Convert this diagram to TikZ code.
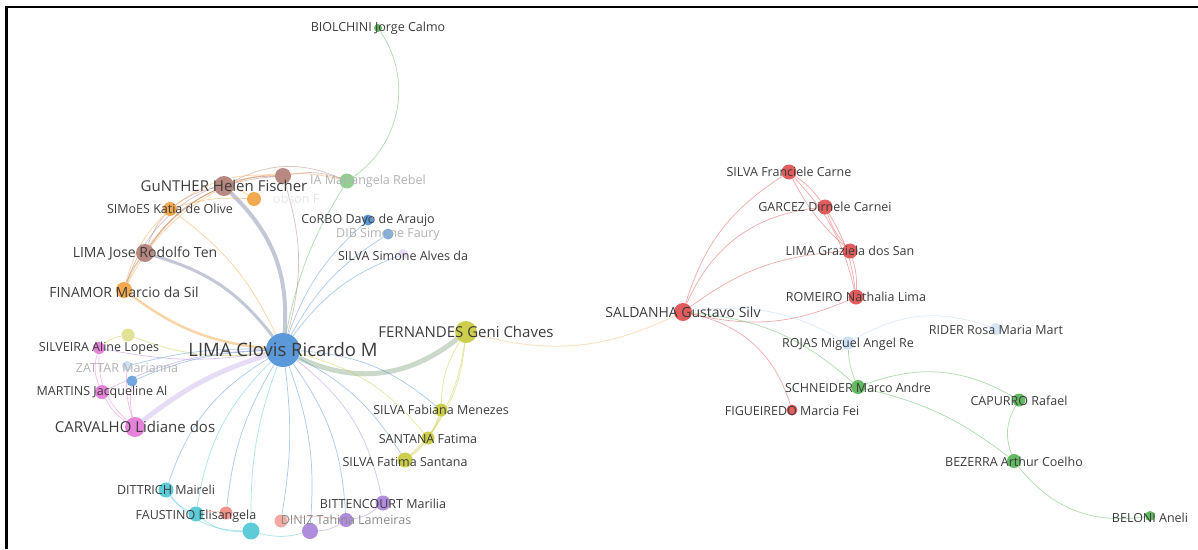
\documentclass[tikz,border=0pt]{standalone}
\usepackage{fontspec}
\setmainfont{Open Sans}
\usetikzlibrary{positioning,backgrounds}

\definecolor{vblue}{HTML}{4A8ED6}
\definecolor{vred}{HTML}{DE4A4A}
\definecolor{vgreen}{HTML}{52B352}
\definecolor{volive}{HTML}{C8C93A}
\definecolor{vbrown}{HTML}{B07C74}
\definecolor{vorange}{HTML}{F2A03D}
\definecolor{vpink}{HTML}{E276D6}
\definecolor{vpurple}{HTML}{A77FD9}
\definecolor{vteal}{HTML}{4CC6D4}
\definecolor{vsalmon}{HTML}{EF8A80}
\definecolor{labeltext}{HTML}{3C3C3C}

\tikzset{
  dot/.style={circle,fill=#1,draw=none,inner sep=0pt,minimum size=13pt,opacity=.9},
  lbl/.style={text=labeltext,inner sep=0pt,font=\fontsize{12.5}{13}\selectfont},
  faint/.style={text=black!30},
  link/.style={draw=#1,line width=.75pt,draw opacity=.45},
  thick link/.style={draw=#1,line width=4pt,draw opacity=.45},
}

\begin{document}
\begin{tikzpicture}[x=1pt,y=-1pt]
\useasboundingbox (0,0) rectangle (1198,549);
\draw[line width=2.6pt] (6.5,549) -- (6.5,7) -- (1198,7);

% authors, left group
\node[dot=vblue,minimum size=34pt] (clovis) at (283,350) {};
\node[dot=vgreen,minimum size=8pt] (biol) at (378,28) {};
\node[dot=vbrown,minimum size=20pt] (gunther) at (224,186) {};
\node[dot=vbrown,minimum size=16pt] (brownA) at (283,176) {};
\node[dot=vorange,minimum size=14pt] (orangeA) at (254,199) {};
\node[dot=vgreen!70,minimum size=15pt] (marian) at (347,181) {};
\node[dot=vorange,minimum size=14pt] (simoes) at (170,209) {};
\node[dot=vblue,minimum size=11pt] (corbo) at (368,220) {};
\node[dot=vblue!80,minimum size=11pt] (dib) at (388,234) {};
\node[dot=vpurple!30,minimum size=10pt] (silvasim) at (403,254) {};
\node[dot=vbrown,minimum size=18pt] (limajose) at (145,253) {};
\node[dot=vorange,minimum size=16pt] (finamor) at (124,290) {};
\node[dot=volive!60,minimum size=13pt] (oliveA) at (128,335) {};
\node[dot=vpink,minimum size=12pt] (silveira) at (99,348) {};
\node[dot=vblue!30,minimum size=10pt] (zattar) at (127,366) {};
\node[dot=vblue!85,minimum size=11pt] (blueB) at (132,381) {};
\node[dot=vpink,minimum size=14pt] (martins) at (102,392) {};
\node[dot=vpink,minimum size=20pt] (carvalho) at (135,427) {};
\node[dot=volive,minimum size=22pt] (fernandes) at (466,332) {};
\node[dot=volive,minimum size=13pt] (fabiana) at (441,410) {};
\node[dot=volive,minimum size=13pt] (santana) at (428,438) {};
\node[dot=volive,minimum size=15pt] (fatima) at (405,460) {};
\node[dot=vteal,minimum size=15pt] (dittrich) at (166,490) {};
\node[dot=vteal,minimum size=15pt] (faustino) at (196,514) {};
\node[dot=vsalmon,minimum size=13pt] (salmonA) at (226,513) {};
\node[dot=vteal,minimum size=17pt] (tealB) at (251,531) {};
\node[dot=vsalmon!80,minimum size=13pt] (salmonB) at (281,521) {};
\node[dot=vpurple,minimum size=16pt] (purpleB) at (310,531) {};
\node[dot=vpurple,minimum size=14pt] (purpleA) at (346,520) {};
\node[dot=vpurple,minimum size=15pt] (bitten) at (383,503) {};

% authors, right group
\node[dot=vred,minimum size=18pt] (saldanha) at (683,312) {};
\node[dot=vred,minimum size=15pt] (franciele) at (789,172) {};
\node[dot=vred,minimum size=15pt] (garcez) at (825,207) {};
\node[dot=vred,minimum size=15pt] (graziela) at (850,251) {};
\node[dot=vred,minimum size=15pt] (romeiro) at (856,297) {};
\node[dot=vblue!25,minimum size=12pt] (rider) at (996,329) {};
\node[dot=vblue!30,minimum size=13pt] (rojas) at (848,343) {};
\node[dot=vgreen,minimum size=14pt] (schneider) at (858,387) {};
\node[dot=vred,minimum size=11pt] (figueiredo) at (792,410) {};
\node[dot=vgreen,minimum size=13pt] (capurro) at (1019,400) {};
\node[dot=vgreen,minimum size=14pt] (bezerra) at (1014,461) {};
\node[dot=vgreen,minimum size=10pt] (beloni) at (1150,516) {};

\begin{pgfonlayer}{background}
% links of LIMA Clovis
\draw[link=vblue] (clovis) to[bend left=14] (corbo);
\draw[link=vblue] (clovis) to[bend left=14] (dib);
\draw[link=vblue] (clovis) to[bend left=16] (silvasim);
\draw[link=vgreen] (clovis) to[bend left=10] (marian);
\draw[link=vbrown] (clovis) to[bend right=16] (brownA);
\draw[thick link=vbrown!50!vblue] (gunther) to[bend left=25] (clovis);
\draw[thick link=vbrown!50!vblue,line width=3pt] (limajose) to[bend left=18] (clovis);
\draw[link=vorange,line width=2.5pt] (finamor) to[bend right=15] (clovis);
\draw[link=vorange] (simoes) to[bend left=14] (clovis);
\draw[thick link=vblue!50!volive,line width=5pt] (clovis) to[bend right=32] (fernandes);
\draw[thick link=vpurple!60,line width=5pt] (clovis) to[bend right=10] (carvalho);
\draw[link=vpurple] (clovis) to[bend right=12] (martins);
\draw[link=vpurple] (clovis) to[bend left=10] (silveira);
\draw[link=volive] (clovis) to[bend left=14] (oliveA);
\draw[link=vblue] (clovis) to[bend right=8] (zattar);
\draw[link=vblue] (clovis) to[bend right=10] (blueB);
\draw[link=vblue] (clovis) to[bend left=18] (fabiana);
\draw[link=volive] (clovis) to[bend left=18] (santana);
\draw[link=vblue] (clovis) to[bend left=15] (fatima);
\draw[link=vblue] (clovis) to[bend right=20] (dittrich);
\draw[link=vteal] (clovis) to[bend right=18] (faustino);
\draw[link=vblue] (clovis) to[bend right=12] (salmonA);
\draw[link=vteal] (clovis) to[bend right=10] (tealB);
\draw[link=vblue] (clovis) to[bend left=8] (salmonB);
\draw[link=vblue] (clovis) to[bend left=12] (purpleB);
\draw[link=vblue] (clovis) to[bend left=16] (purpleA);
\draw[link=vpurple] (clovis) to[bend left=20] (bitten);
% top left group
\draw[link=vbrown] (gunther) to[bend right=12] (simoes);
\draw[link=vbrown] (gunther) to[bend right=15] (limajose);
\draw[link=vorange] (gunther) to[bend right=15] (finamor);
\draw[link=vbrown] (gunther) to[bend left=10] (brownA);
\draw[link=vorange] (gunther) to[bend left=10] (orangeA);
\draw[link=vbrown] (gunther) to[bend left=25] (marian);
\draw[link=vbrown] (simoes) to[bend right=10] (limajose);
\draw[link=vorange] (simoes) to[bend right=15] (finamor);
\draw[link=vbrown] (limajose) to[bend right=10] (finamor);
\draw[link=vbrown] (finamor) to[bend left=35] (brownA);
\draw[link=vorange] (finamor) to[bend left=40] (marian);
\draw[link=vbrown] (limajose) to[bend left=25] (brownA);
\draw[link=vorange] (simoes) to[bend left=20] (brownA);
\draw[link=vbrown] (brownA) to[bend left=15] (marian);
\draw[link=vorange] (simoes) to[bend left=10] (orangeA);
\draw[link=vgreen] (biol) to[bend left=45] (marian);
% pink group
\draw[link=vpink] (silveira) to[bend right=20] (martins);
\draw[link=vpink] (martins) to[bend right=15] (carvalho);
\draw[link=vpink] (silveira) to[bend right=25] (carvalho);
\draw[link=vpink] (zattar) to[bend right=10] (carvalho);
\draw[link=vpink] (blueB) to[bend right=10] (carvalho);
\draw[link=volive] (oliveA) to[bend right=15] (silveira);
% olive group
\draw[link=volive] (fernandes) to[bend right=15] (fabiana);
\draw[link=volive] (fernandes) to[bend left=12] (santana);
\draw[link=volive] (fernandes) to[bend left=20] (fatima);
\draw[link=volive] (fabiana) to[bend left=10] (santana);
\draw[link=volive] (santana) to[bend left=10] (fatima);
\draw[link=volive] (fabiana) to[bend left=15] (fatima);
\draw[link=vorange!70,line width=.9pt] (fernandes) to[bend right=20] (saldanha);
% bottom group
\draw[link=vteal] (dittrich) to[bend right=15] (faustino);
\draw[link=vteal] (faustino) to[bend right=20] (tealB);
\draw[link=vsalmon] (faustino) to[bend left=10] (salmonA);
\draw[link=vteal] (dittrich) to[bend right=25] (tealB);
\draw[link=vteal] (tealB) to[bend right=15] (purpleB);
\draw[link=vpurple] (purpleB) to[bend right=15] (purpleA);
\draw[link=vpurple] (purpleA) to[bend right=15] (bitten);
\draw[link=vsalmon] (salmonB) to[bend left=10] (purpleA);
% right group
\draw[link=vred] (saldanha) to[bend left=20] (franciele);
\draw[link=vred] (saldanha) to[bend left=30] (garcez);
\draw[link=vred] (saldanha) to[bend left=16] (graziela);
\draw[link=vred] (saldanha) to[bend right=18] (romeiro);
\draw[link=vred] (saldanha) to[bend left=30] (figueiredo);
\draw[link=vblue!40] (saldanha) to[bend left=18] (rojas);
\draw[link=vgreen] (saldanha) to[bend left=18] (schneider);
\draw[link=vred] (franciele) to[bend left=10] (garcez);
\draw[link=vred] (franciele) to[bend right=10] (graziela);
\draw[link=vred] (franciele) to[bend left=15] (romeiro);
\draw[link=vred] (garcez) to[bend right=10] (graziela);
\draw[link=vred] (garcez) to[bend left=12] (romeiro);
\draw[link=vred] (graziela) to[bend left=10] (romeiro);
\draw[link=vblue!40] (rojas) to[bend left=25] (rider);
\draw[link=vgreen] (rojas) to[bend right=10] (schneider);
\draw[link=vgreen] (schneider) to[bend left=25] (capurro);
\draw[link=vgreen] (schneider) to[bend left=12] (bezerra);
\draw[link=vgreen] (capurro) to[bend right=25] (bezerra);
\draw[link=vgreen] (bezerra) to[bend right=30] (beloni);
\end{pgfonlayer}

% labels
\node[lbl] (biolL) at (biol) {BIOLCHINI Jorge Calmo};
\node[lbl,faint,anchor=west] (marianL) at ([xshift=-37pt]marian.center) {IA Mariangela Rebel};
\node[lbl,text=black!10,anchor=west] (orangeAL) at ([xshift=19pt]orangeA.center) {obson F};
\node[lbl,font=\fontsize{15}{16}\selectfont] (guntherL) at (gunther) {GuNTHER Helen Fischer};
\node[lbl] (simoesL) at (simoes) {SIMoES Katia de Olive};
\node[lbl] (corboL) at (corbo) {CoRBO Dayo de Araujo};
\node[lbl,faint] (dibL) at (dib) {DIB Simone Faury};
\node[lbl] (silvasimL) at ([yshift=-2pt]silvasim.center) {SILVA Simone Alves da};
\node[lbl,font=\fontsize{14}{15}\selectfont] (limajoseL) at (limajose) {LIMA Jose Rodolfo Ten};
\node[lbl,font=\fontsize{14}{15}\selectfont] (finamorL) at ([yshift=-2pt]finamor.center) {FINAMOR Marcio da Sil};
\node[lbl] (silveiraL) at (silveira) {SILVEIRA Aline Lopes};
\node[lbl,faint] (zattarL) at ([yshift=-2pt]zattar.center) {ZATTAR Marianna};
\node[lbl] (martinsL) at (martins) {MARTINS Jacqueline Al};
\node[lbl,font=\fontsize{15}{16}\selectfont] (carvalhoL) at (carvalho) {CARVALHO Lidiane dos};
\node[lbl,font=\fontsize{18.5}{20}\selectfont] (clovisL) at (clovis) {LIMA Clovis Ricardo M};
\node[lbl,font=\fontsize{15}{16}\selectfont] (fernandesL) at (fernandes) {FERNANDES Geni Chaves};
\node[lbl] (fabianaL) at (fabiana) {SILVA Fabiana Menezes};
\node[lbl] (santanaL) at ([yshift=-1pt]santana.center) {SANTANA Fatima};
\node[lbl] (fatimaL) at ([yshift=-2pt]fatima.center) {SILVA Fatima Santana};
\node[lbl] (dittrichL) at (dittrich) {DITTRICH Maireli};
\node[lbl] (faustinoL) at ([yshift=-2pt]faustino.center) {FAUSTINO Elisangela};
\node[lbl] (bittenL) at ([yshift=-1pt]bitten.center) {BITTENCOURT Marilia};
\node[lbl,text=black!45] (purpleAL) at (purpleA) {DINIZ Tahina Lameiras};
\node[lbl,font=\fontsize{14}{15}\selectfont] (saldanhaL) at (saldanha) {SALDANHA Gustavo Silv};
\node[lbl] (francieleL) at (franciele) {SILVA Franciele Carne};
\node[lbl] (garcezL) at (garcez) {GARCEZ Dirnele Carnei};
\node[lbl] (grazielaL) at (graziela) {LIMA Graziela dos San};
\node[lbl] (romeiroL) at (romeiro) {ROMEIRO Nathalia Lima};
\node[lbl] (riderL) at ([yshift=-1pt]rider.center) {RIDER Rosa Maria Mart};
\node[lbl] (rojasL) at ([yshift=-1pt]rojas.center) {ROJAS Miguel Angel Re};
\node[lbl] (schneiderL) at ([yshift=-1pt]schneider.center) {SCHNEIDER Marco Andre};
\node[lbl] (figueiredoL) at ([yshift=-1pt]figueiredo.center) {FIGUEIREDO Marcia Fei};
\node[lbl] (capurroL) at ([yshift=-1pt]capurro.center) {CAPURRO Rafael};
\node[lbl] (bezerraL) at ([yshift=-1pt]bezerra.center) {BEZERRA Arthur Coelho};
\node[lbl] (beloniL) at ([yshift=-2pt]beloni.center) {BELONI Aneli};
\end{tikzpicture}
\end{document}
